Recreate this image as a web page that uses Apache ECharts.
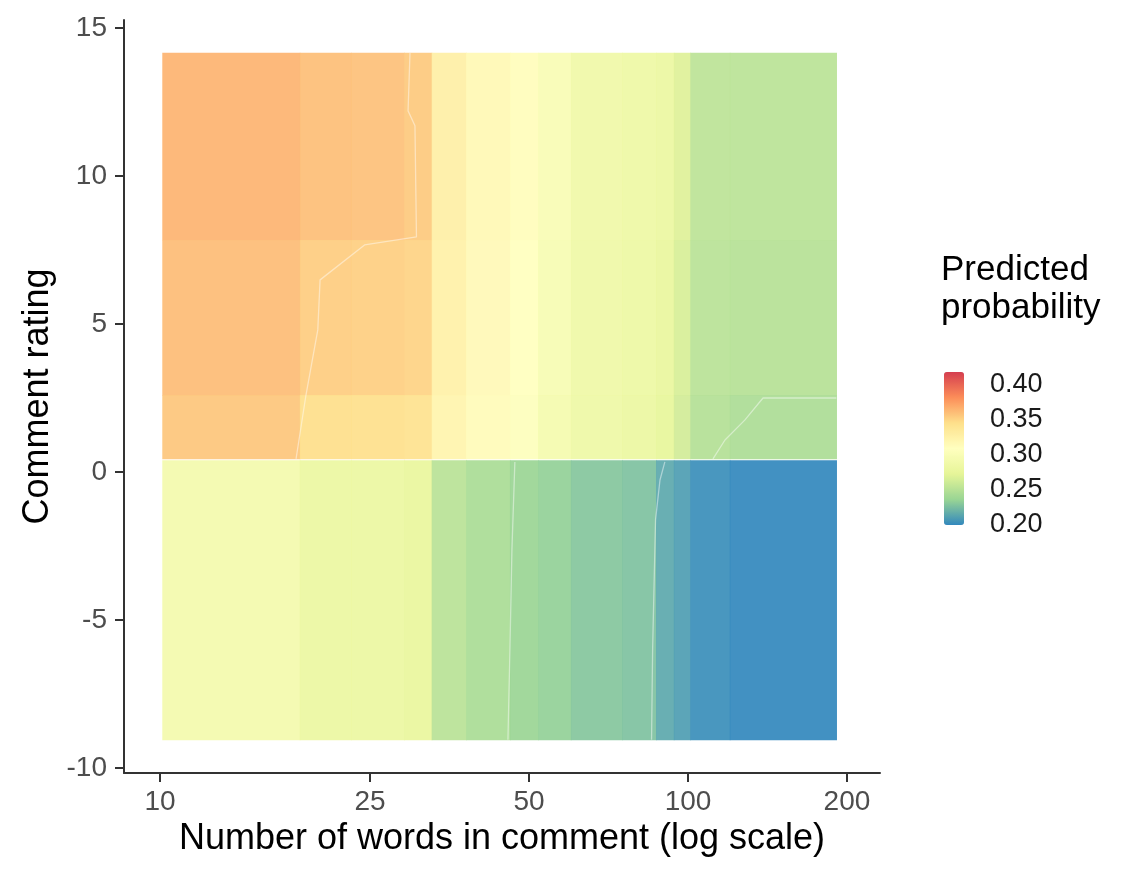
<!DOCTYPE html>
<html>
<head>
<meta charset="utf-8">
<script src="https://cdn.jsdelivr.net/npm/echarts@6/dist/echarts.min.js"></script>
<style>
  html, body { margin: 0; padding: 0; background: #ffffff; }
  #chart { width: 1128px; height: 872px; }
</style>
</head>
<body>
<div id="chart"></div>
<script>
// Column edges of the prediction grid, in words per comment
const wordEdges = [10.1, 18.4, 23, 29, 32.7, 38, 46, 52, 60, 75, 87, 94, 101, 120, 191];

// Comment-rating bands [low, high], top to bottom
const ratingBands = [[7.84, 14.16], [2.6, 7.84], [0.44, 2.6], [-9.05, 0.4]];

// Predicted probability in each band, one value per word column
const probBandHigh = [0.365, 0.360, 0.359, 0.355, 0.327, 0.316, 0.311, 0.298, 0.286, 0.283, 0.280, 0.268, 0.252, 0.251];
const probBandMid  = [0.361, 0.354, 0.353, 0.351, 0.325, 0.315, 0.308, 0.296, 0.285, 0.282, 0.277, 0.265, 0.250, 0.249];
const probBandLow  = [0.357, 0.346, 0.345, 0.343, 0.322, 0.313, 0.306, 0.293, 0.284, 0.280, 0.274, 0.262, 0.248, 0.244];
const probBandNeg  = [0.291, 0.280, 0.280, 0.276, 0.250, 0.243, 0.236, 0.233, 0.228, 0.226, 0.214, 0.209, 0.202, 0.199];

// Contour traces, [words, rating]
const contourA = [[29.75, 14.16], [29.5, 12.2], [30.4, 11.7], [30.6, 7.94], [24.4, 7.67], [20.1, 6.49], [19.9, 4.80], [18.9, 2.6], [18.1, 0.44]];
const contourB = [[111.5, 0.44], [117.5, 1.08], [128.2, 1.76], [138.7, 2.5], [191, 2.5]];
const contourC = [[47.0, 0.34], [46.4, -2.64], [46.0, -6.01], [45.6, -9.05]];
const contourD = [[90.4, 0.34], [88.5, -0.27], [86.8, -1.62], [85.7, -6.01], [85.3, -9.05]];

// Tick labels
const xTickWords = [10, 25, 50, 100, 200];
const yTicks = [-10, -5, 0, 5, 10, 15];
const legendTicks = [0.20, 0.25, 0.30, 0.35, 0.40];

// Spectral palette, low to high
const spectral = ['#3288BD', '#99D594', '#E6F598', '#FFFFBF', '#FEE08B', '#FC8D59', '#D53E4F'];

const bandValues = [probBandHigh, probBandMid, probBandLow, probBandNeg];
const cells = [];
ratingBands.forEach(function (band, i) {
  bandValues[i].forEach(function (p, j) {
    cells.push([Math.log10(wordEdges[j]), Math.log10(wordEdges[j + 1]), band[0], band[1], p]);
  });
});

function toLogX(trace) {
  return trace.map(function (pt) { return [Math.log10(pt[0]), pt[1]]; });
}

const FONT = 'Liberation Sans';
const axisDark = '#333333';

const contourStyle = {
  type: 'line', xAxisIndex: 0, yAxisIndex: 0, showSymbol: false, silent: true,
  lineStyle: { color: 'rgba(255,255,255,0.45)', width: 1.3 }, z: 3
};

const option = {
  animation: false,
  backgroundColor: '#ffffff',
  textStyle: { fontFamily: FONT },
  grid: [
    { left: 124, top: 20, width: 756, height: 753 },
    { left: 944, top: 372, width: 20, height: 153 }
  ],
  xAxis: [
    {
      gridIndex: 0, type: 'value',
      min: 0.93182, max: 2.36364,
      name: 'Number of words in comment (log scale)',
      nameLocation: 'middle', nameGap: 42,
      nameTextStyle: { fontSize: 36, color: '#000000', fontFamily: FONT },
      axisLine: { show: true, onZero: false, lineStyle: { color: axisDark, width: 2 } },
      axisTick: { show: true, length: 9, customValues: xTickWords.map(Math.log10), lineStyle: { color: axisDark, width: 2 } },
      axisLabel: {
        customValues: xTickWords.map(Math.log10),
        formatter: function (v) { return String(Math.round(Math.pow(10, v))); },
        fontSize: 28, color: '#4D4D4D', margin: 15, fontFamily: FONT
      },
      splitLine: { show: false }
    },
    { gridIndex: 1, type: 'value', min: 0, max: 1, show: false }
  ],
  yAxis: [
    {
      gridIndex: 0, type: 'value',
      min: -10.17, max: 15.27,
      name: 'Comment rating',
      nameLocation: 'middle', nameGap: 68,
      nameTextStyle: { fontSize: 36, color: '#000000', fontFamily: FONT },
      axisLine: { show: true, onZero: false, lineStyle: { color: axisDark, width: 2 } },
      axisTick: { show: true, length: 9, customValues: yTicks, lineStyle: { color: axisDark, width: 2 } },
      axisLabel: { customValues: yTicks, fontSize: 28, color: '#4D4D4D', margin: 17, fontFamily: FONT },
      splitLine: { show: false }
    },
    {
      gridIndex: 1, type: 'value', position: 'right',
      min: 0.199, max: 0.418,
      axisLine: { show: false },
      axisTick: { show: false },
      splitLine: { show: false },
      axisLabel: {
        customValues: legendTicks,
        formatter: function (v) { return v.toFixed(2); },
        fontSize: 27, color: '#1A1A1A', margin: 26, fontFamily: FONT
      }
    }
  ],
  visualMap: {
    type: 'continuous',
    seriesIndex: 0,
    dimension: 4,
    min: 0.199, max: 0.418,
    inRange: { color: spectral },
    calculable: false,
    hoverLink: false,
    left: 944, top: 372,
    itemWidth: 20, itemHeight: 153,
    padding: 0,
    text: null,
    showLabel: false
  },
  graphic: [
    {
      type: 'text', left: 941, top: 251,
      style: { text: 'Predicted\nprobability', font: '35px "Liberation Sans"', fill: '#000000', lineHeight: 38 }
    }
  ],
  series: [
    {
      type: 'custom',
      xAxisIndex: 0, yAxisIndex: 0,
      data: cells,
      encode: { x: [0, 1], y: [2, 3] },
      silent: true,
      renderItem: function (params, api) {
        const p0 = api.coord([api.value(0), api.value(3)]);
        const p1 = api.coord([api.value(1), api.value(2)]);
        return {
          type: 'rect',
          shape: { x: p0[0], y: p0[1], width: p1[0] - p0[0] + 0.6, height: p1[1] - p0[1] + 0.4 },
          style: { fill: api.visual('color'), opacity: 0.92 }
        };
      }
    },
    Object.assign({ data: toLogX(contourA) }, contourStyle),
    Object.assign({ data: toLogX(contourB) }, contourStyle),
    Object.assign({ data: toLogX(contourC) }, contourStyle),
    Object.assign({ data: toLogX(contourD) }, contourStyle)
  ]
};

const chart = echarts.init(document.getElementById('chart'), null, { renderer: 'canvas' });
chart.setOption(option);
</script>
</body>
</html>
